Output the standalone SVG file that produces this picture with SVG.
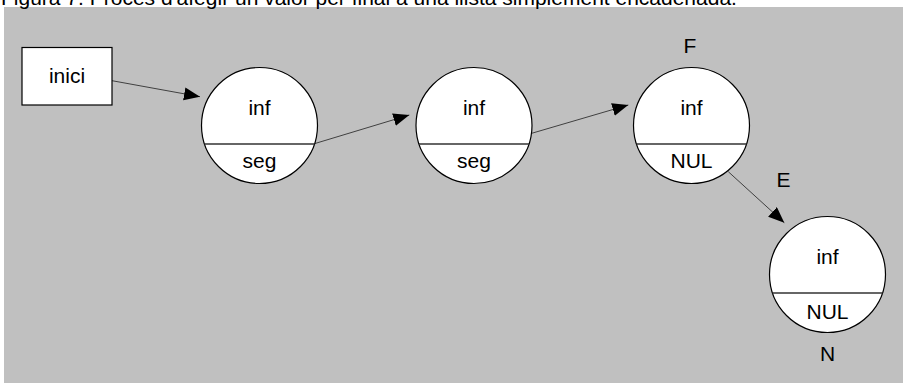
<svg xmlns="http://www.w3.org/2000/svg" width="904" height="383" viewBox="0 0 904 383">
<style>
text{font-family:"Liberation Sans",Arial,sans-serif;font-size:21px;fill:#000}
.c{text-anchor:middle}
.node{fill:#fff;stroke:#000;stroke-width:1.2}
.div{stroke:#333;stroke-width:1.5}
.conn line{stroke:#404040;stroke-width:1;marker-end:url(#ah)}
</style>
<defs>
<marker id="ah" markerUnits="userSpaceOnUse" markerWidth="17" markerHeight="14" refX="16" refY="6.5" orient="auto">
<path d="M0,0 L16,6.5 L0,13 z" fill="#000"/>
</marker>
</defs>
<rect x="4" y="7" width="899" height="376" fill="#c0c0c0"/>
<text x="1" y="5">Figura 7. Procés d'afegir un valor per final a una llista simplement encadenada.</text>
<g class="conn">
<line x1="112" y1="80.7" x2="200" y2="96.7"/>
<line x1="315" y1="143.5" x2="409.3" y2="115"/>
<line x1="531.7" y1="133.3" x2="628.3" y2="105"/>
<line x1="728.3" y1="171.7" x2="784.3" y2="222.7"/>
</g>
<g id="inici">
<rect class="node" x="22" y="47.5" width="90" height="57.5"/>
<text class="c" x="67" y="83.3">inici</text>
</g>
<g id="n1">
<circle class="node" cx="259.5" cy="125.5" r="58"/>
<line class="div" x1="204.5" y1="144" x2="314.5" y2="144"/>
<text class="c" x="259.5" y="114.5">inf</text>
<text class="c" x="259.5" y="167.5">seg</text>
</g>
<g id="n2">
<circle class="node" cx="474" cy="125.5" r="58"/>
<line class="div" x1="419" y1="144" x2="529" y2="144"/>
<text class="c" x="474" y="114.5">inf</text>
<text class="c" x="474" y="167.5">seg</text>
</g>
<g id="n3">
<circle class="node" cx="691.5" cy="125.5" r="58"/>
<line class="div" x1="636.5" y1="144" x2="746.5" y2="144"/>
<text class="c" x="691.5" y="114.5">inf</text>
<text class="c" x="691.5" y="167.5">NUL</text>
<text class="c" x="690" y="52.7">F</text>
</g>
<g id="n4">
<circle class="node" cx="827.5" cy="274.5" r="58"/>
<line class="div" x1="772.5" y1="293" x2="882.5" y2="293"/>
<text class="c" x="827.5" y="263.5">inf</text>
<text class="c" x="827.5" y="318.5">NUL</text>
<text class="c" x="827.5" y="360.7">N</text>
</g>
<text class="c" x="783.5" y="186.7">E</text>
</svg>
